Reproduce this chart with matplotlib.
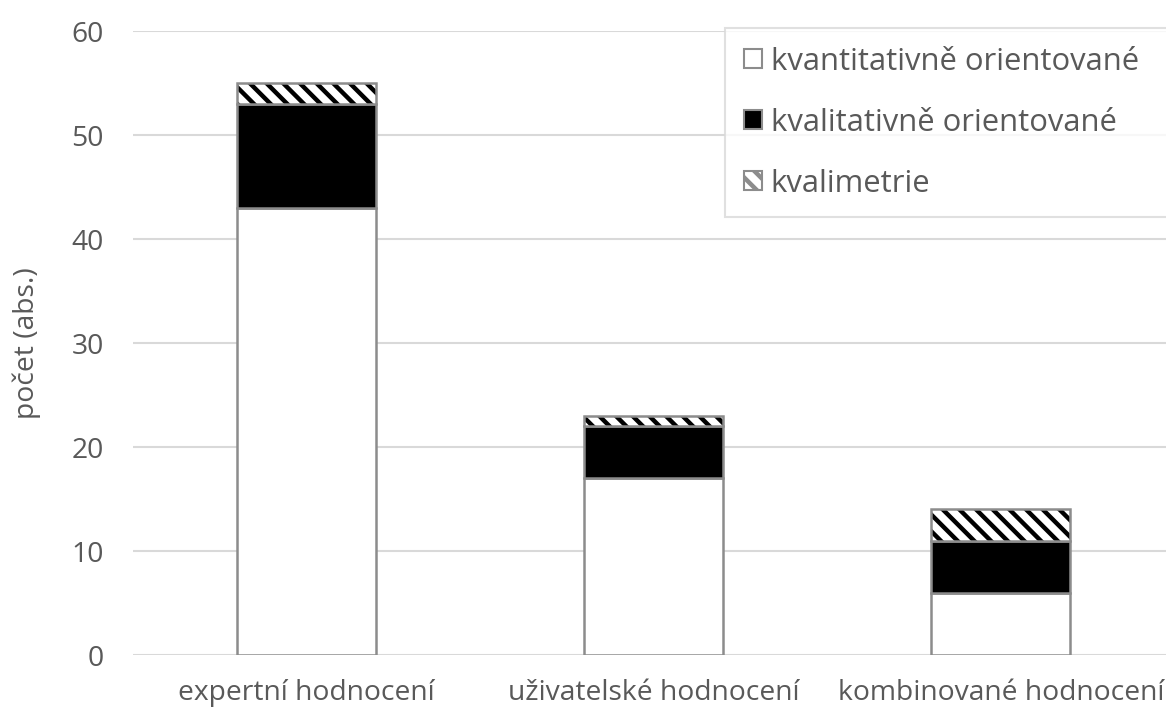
import matplotlib
matplotlib.use("Agg")
import matplotlib.pyplot as plt
from matplotlib.patches import Patch

categories = ["expertní hodnocení", "uživatelské hodnocení", "kombinované hodnocení"]
series_names = ["kvantitativně orientované", "kvalitativně orientované", "kvalimetrie"]
kvantitativni = [43, 17, 6]
kvalitativni = [10, 5, 5]
kvalimetrie = [2, 1, 3]
y_ticks = [0, 10, 20, 30, 40, 50, 60]

plt.rcParams["font.family"] = ["Open Sans", "DejaVu Sans"]
plt.rcParams["hatch.linewidth"] = 3.2
plt.rcParams["hatch.color"] = "black"

W, H = 1166, 711
fig = plt.figure(figsize=(W / 100, H / 100), dpi=100)
ax_w, ax_h = W - 133, 655 - 31
ax = fig.add_axes([133 / W, 56 / H, ax_w / W, ax_h / H])

text_color = "#595959"
edge = "#8c8c8c"
x = list(range(len(categories)))
width = 0.4

ax.bar(x, kvantitativni, width, color="white", edgecolor=edge, linewidth=1.8, zorder=3)
bottom2 = kvantitativni
ax.bar(x, kvalitativni, width, bottom=bottom2, color="black", edgecolor=edge,
       linewidth=1.8, zorder=3)
bottom3 = [a + b for a, b in zip(kvantitativni, kvalitativni)]
ax.bar(x, kvalimetrie, width, bottom=bottom3, color="white", edgecolor="black",
       linewidth=0, hatch="\\\\", zorder=3)
# grey outline of the hatched top segment
ax.bar(x, kvalimetrie, width, bottom=bottom3, color="none", edgecolor=edge,
       linewidth=1.8, zorder=4)

ax.set_xlim(-0.5, 2.476)
ax.set_ylim(0, 60)
ax.set_yticks(y_ticks)
ax.set_xticks(x)
ax.set_xticklabels(categories)
ax.yaxis.grid(True, color="#d9d9d9", linewidth=1.5, zorder=0)
ax.set_axisbelow(True)
for s in ax.spines.values():
    s.set_visible(False)
ax.tick_params(axis="both", length=0, labelsize=20.3, colors=text_color)
ax.tick_params(axis="y", pad=21)
ax.tick_params(axis="x", pad=17)
ax.set_ylabel("počet (abs.)", fontsize=20.3, color=text_color, labelpad=22)

handles = [
    Patch(facecolor="white", edgecolor=edge, linewidth=1.5),
    Patch(facecolor="black", edgecolor=edge, linewidth=1.5),
    Patch(facecolor="white", edgecolor=edge, linewidth=1.5, hatch="\\\\"),
]
# legend box runs past the right edge of the figure
x0 = (725 - 133) / ax_w
x1 = (1180 - 133) / ax_w
top = 1 + 3 / ax_h
leg = ax.legend(handles, series_names, loc="upper left",
                bbox_to_anchor=(x0, top - 0.5, x1 - x0, 0.5), mode="expand",
                frameon=True, fancybox=False, fontsize=22.3, labelcolor=text_color,
                handlelength=0.58, handleheight=0.58, handletextpad=0.3,
                labelspacing=1.0, borderpad=0.6, borderaxespad=0)
leg.get_frame().set_edgecolor("#d9d9d9")
leg.get_frame().set_linewidth(1.5)

fig.savefig("out.png", dpi=100)
